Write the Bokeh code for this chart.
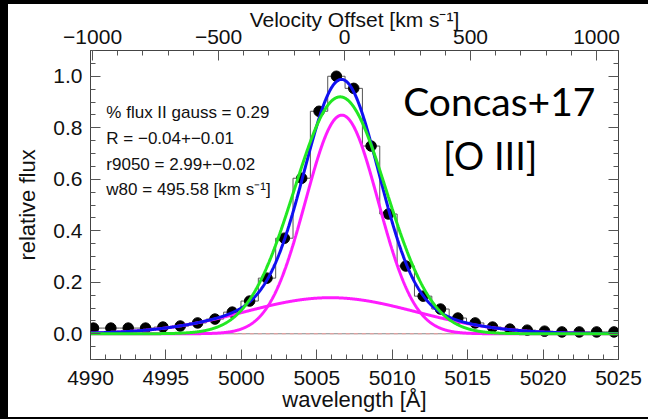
import numpy as np
from bokeh.plotting import figure
from bokeh.layouts import column, row
from bokeh.models import (Range1d, LinearAxis, SingleIntervalTicker, Label, Spacer,
                          PrintfTickFormatter, CustomJSTickFormatter)
from bokeh.embed import file_html
from bokeh.resources import INLINE

# ---------------- data ----------------
wave = [4990.20, 4991.35, 4992.50, 4993.65, 4994.80, 4995.95, 4997.10,
        4998.25, 4999.40, 5000.55, 5001.70, 5002.85, 5004.00, 5005.15,
        5006.30, 5007.45, 5008.60, 5009.75, 5010.90, 5012.05, 5013.20,
        5014.35, 5015.50, 5016.65, 5017.80, 5018.95, 5020.10, 5021.25,
        5022.40, 5023.55, 5024.70]
flux = [0.022, 0.022, 0.022, 0.022, 0.026, 0.030, 0.042,
        0.057, 0.084, 0.127, 0.216, 0.371, 0.604, 0.864,
        1.000, 0.953, 0.729, 0.465, 0.263, 0.146, 0.096,
        0.061, 0.042, 0.026, 0.018, 0.014, 0.010, 0.007,
        0.007, 0.007, 0.007]

# Gaussian fit components: (amplitude, centre [A], sigma [A])
narrow_gauss = (0.849, 5006.66, 2.41)
broad_gauss = (0.140, 5005.90, 5.70)
single_gauss = (0.920, 5006.55, 3.05)

lambda0 = 5006.84          # [O III] rest wavelength
c_kms = 299792.458

stats = ["% flux II gauss = 0.29",
         "R = \u22120.04+\u22120.01",
         "r9050 =  2.99+\u22120.02",
         "w80 = 495.58 [km s\u207b\u00b9]"]
stats_y = [0.858, 0.759, 0.658, 0.561]

x_lo, x_hi = 4990.0, 5025.0
y_lo, y_hi = -0.1, 1.1

# ---------------- figure ----------------
FONT = "Liberation Sans"
p = figure(width=640, height=417, output_backend="svg", toolbar_location=None,
           x_range=Range1d(x_lo, x_hi), y_range=Range1d(y_lo, y_hi),
           min_border_left=82, min_border_right=30,
           min_border_top=50, min_border_bottom=58,
           background_fill_color="white", border_fill_alpha=0,
           x_axis_location=None, y_axis_location=None)
p.xgrid.visible = False
p.ygrid.visible = False
p.outline_line_color = "#444444"
p.outline_line_width = 1

def style_axis(ax, label_size="21px"):
    ax.major_tick_in = 10
    ax.major_tick_out = 0
    ax.minor_tick_in = 5
    ax.minor_tick_out = 0
    ax.major_tick_line_color = "#555555"
    ax.minor_tick_line_color = "#555555"
    ax.axis_line_color = "#444444"
    ax.major_label_text_font = FONT
    ax.major_label_text_font_size = label_size
    ax.major_label_text_color = "#111111"
    ax.axis_label_text_font = FONT
    ax.axis_label_text_font_style = "normal"
    ax.axis_label_text_color = "#111111"

xb = LinearAxis(ticker=SingleIntervalTicker(interval=5, num_minor_ticks=5),
                axis_label="wavelength [\u00c5]")
style_axis(xb)
xb.major_label_standoff = 11
xb.axis_label_text_font_size = "22px"
xb.axis_label_standoff = -1
p.add_layout(xb, "below")

yl = LinearAxis(ticker=SingleIntervalTicker(interval=0.2, num_minor_ticks=4),
                formatter=PrintfTickFormatter(format="%.1f"),
                axis_label="relative flux")
style_axis(yl)
yl.major_label_standoff = 8
yl.axis_label_text_font_size = "22px"
yl.axis_label_standoff = 10
p.add_layout(yl, "left")

yr = LinearAxis(ticker=SingleIntervalTicker(interval=0.2, num_minor_ticks=4),
                formatter=CustomJSTickFormatter(code="return '';"))
style_axis(yr)
yr.major_label_standoff = 0
p.add_layout(yr, "right")

v_lo = (x_lo - lambda0) / lambda0 * c_kms
v_hi = (x_hi - lambda0) / lambda0 * c_kms
p.extra_x_ranges = {"vel": Range1d(v_lo, v_hi)}
xt = LinearAxis(x_range_name="vel",
                ticker=SingleIntervalTicker(interval=500, num_minor_ticks=5),
                formatter=CustomJSTickFormatter(
                    code="return tick < 0 ? '\\u2212' + Math.abs(tick) : String(tick);"),
                axis_label="Velocity Offset [km s\u207b\u00b9]")
style_axis(xt)
xt.major_label_standoff = 7
xt.axis_label_text_font_size = "21px"
xt.axis_label_standoff = -4
p.add_layout(xt, "above")

# ---------------- marks ----------------
lam = np.linspace(x_lo, x_hi, 1401)

def gauss(par):
    a, c, s = par
    return a * np.exp(-(lam - c) ** 2 / (2.0 * s ** 2))

g_n = gauss(narrow_gauss)
g_b = gauss(broad_gauss)
g_s = gauss(single_gauss)

# zero level lines
p.line([x_lo, x_hi], [0, 0], line_color="#888888", line_width=1)
p.line([4999.5, 5014.2], [0, 0], line_color="#f2a0a0", line_width=1.2,
       line_dash="4 4")

# data histogram and points
p.step(wave, flux, mode="center", line_color="#555555", line_width=1)
p.scatter(wave, flux, size=10.5, fill_color="black", line_color="black")

# fit components
p.line(lam, g_b, line_color="#ff1cff", line_width=3)
p.line(lam, g_n, line_color="#ff1cff", line_width=3)
p.line(lam, g_n + g_b, line_color="#1010f0", line_width=3)
p.line(lam, g_s, line_color="#22e822", line_width=3)

# ---------------- texts ----------------
for txt, yy in zip(stats, stats_y):
    p.add_layout(Label(x=4991.05, y=yy, text=txt, text_font=FONT,
                       text_font_size="17px", text_baseline="middle",
                       text_align="left", text_color="#111111"))

p.add_layout(Label(x=5017.1, y=0.903, text="Concas+17", text_font="Lato",
                   text_font_size="39px", text_baseline="middle",
                   text_align="center", text_color="black"))
p.add_layout(Label(x=5016.5, y=0.694, text="[O III]", text_font="Lato",
                   text_font_size="38px", text_baseline="middle",
                   text_align="center", text_color="black"))

# black image edges of the reference
edge = {"background-color": "black"}
page = column(row(Spacer(width=8, height=417, styles=edge), p),
              Spacer(width=648, height=2, styles=edge),
              styles={"box-shadow": "inset 0 4px 0 0 #000"})

open("out.html", "w").write(file_html(page, INLINE))
